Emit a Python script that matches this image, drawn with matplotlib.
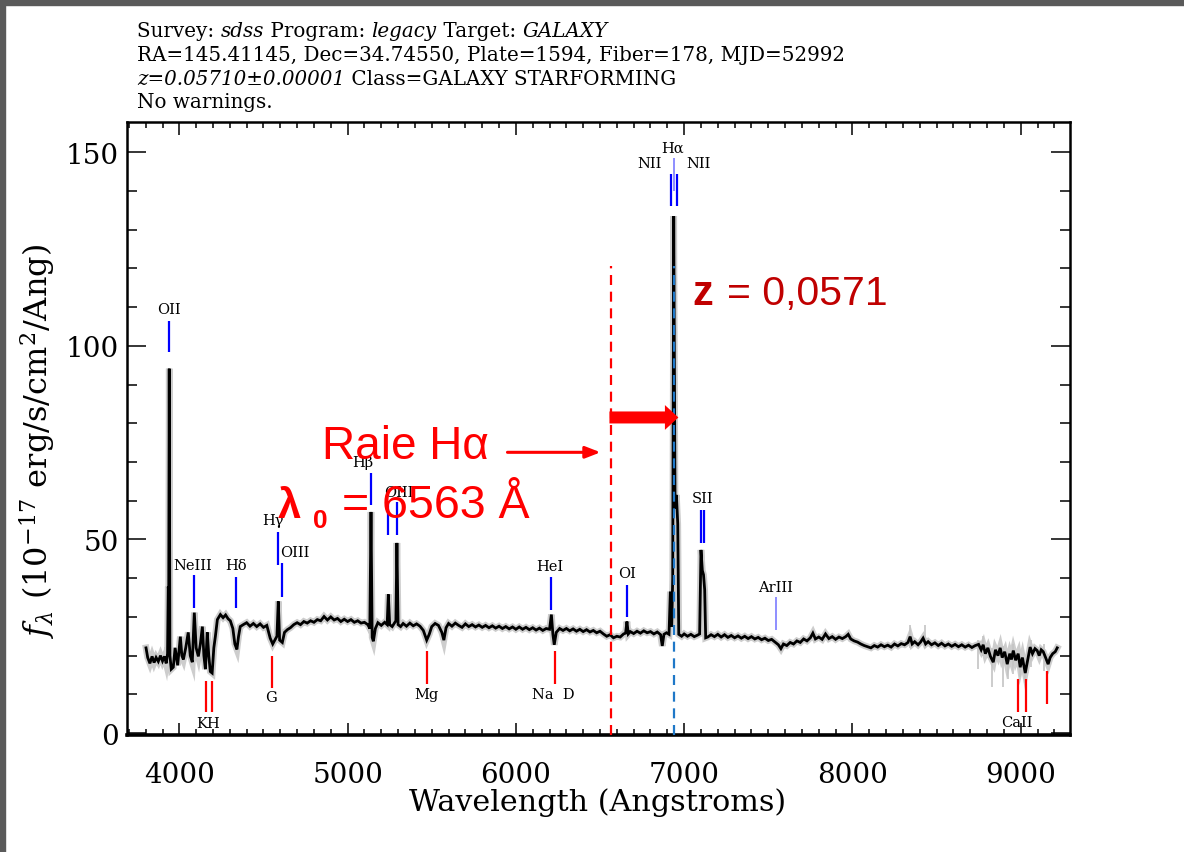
import matplotlib
matplotlib.use('Agg')
import matplotlib.pyplot as plt
from matplotlib.ticker import MultipleLocator, FixedLocator
from matplotlib.patches import Rectangle, FancyArrow

# 스펙트럼 데이터 (파장 Å, 플럭스 1e-17 erg/s/cm2/Å)
wave = [3802, 3812, 3825, 3838, 3850, 3862, 3875, 3888, 3900, 3912, 3922, 3930,
        3934, 3937, 3940, 3944, 3952, 3964, 3975, 3990, 4006, 4015, 4024, 4038,
        4053, 4065, 4077, 4089, 4100, 4113, 4125, 4137, 4146, 4155, 4166, 4175,
        4184, 4195, 4205, 4214, 4226, 4244, 4260, 4275, 4290, 4303, 4318, 4330,
        4342, 4352, 4362, 4380, 4400, 4420, 4440, 4460, 4480, 4500, 4520, 4540,
        4555, 4570, 4580, 4588, 4596, 4612, 4625, 4642, 4660, 4680, 4700, 4720,
        4740, 4760, 4780, 4800, 4820, 4840, 4860, 4880, 4900, 4920, 4940, 4960,
        4980, 5000, 5020, 5040, 5060, 5080, 5100, 5120, 5132, 5139, 5146, 5153,
        5165, 5180, 5200, 5220, 5235, 5242, 5250, 5265, 5280, 5287, 5293, 5300,
        5315, 5330, 5350, 5370, 5390, 5410, 5430, 5450, 5470, 5485, 5500, 5520,
        5540, 5560, 5572, 5585, 5600, 5620, 5640, 5660, 5680, 5700, 5720, 5740,
        5760, 5780, 5800, 5820, 5840, 5860, 5880, 5900, 5920, 5940, 5960, 5980,
        6000, 6020, 6040, 6060, 6080, 6100, 6120, 6140, 6160, 6180, 6200, 6211,
        6220, 6228, 6240, 6260, 6280, 6300, 6320, 6340, 6360, 6380, 6400, 6420,
        6440, 6460, 6480, 6500, 6520, 6540, 6560, 6580, 6600, 6620, 6640, 6652,
        6660, 6668, 6680, 6700, 6720, 6740, 6760, 6780, 6800, 6820, 6840, 6860,
        6870, 6880, 6895, 6910, 6918, 6926, 6932, 6938, 6946, 6954, 6962, 6968,
        6985, 7000, 7020, 7040, 7060, 7080, 7092, 7100, 7108, 7115, 7122, 7128,
        7140, 7160, 7180, 7200, 7220, 7240, 7260, 7280, 7300, 7320, 7340, 7360,
        7380, 7400, 7420, 7440, 7460, 7480, 7500, 7520, 7540, 7560, 7575, 7590,
        7610, 7630, 7650, 7670, 7690, 7710, 7730, 7750, 7765, 7780, 7800, 7820,
        7840, 7860, 7880, 7900, 7920, 7940, 7960, 7975, 7990, 8010, 8030, 8050,
        8070, 8090, 8110, 8130, 8150, 8170, 8190, 8210, 8230, 8250, 8270, 8290,
        8310, 8330, 8343, 8355, 8370, 8390, 8405, 8420, 8435, 8450, 8470, 8490,
        8510, 8530, 8550, 8570, 8590, 8610, 8630, 8650, 8670, 8690, 8710, 8730,
        8750, 8765, 8777, 8790, 8805, 8820, 8837, 8850, 8865, 8878, 8890, 8905,
        8920, 8935, 8945, 8956, 8970, 8985, 8997, 9010, 9027, 9040, 9056, 9070,
        9085, 9098, 9110, 9122, 9134, 9148, 9163, 9175, 9190, 9205, 9217]
flux = [22.0, 19.5, 18.0, 19.8, 18.2, 19.5, 18.5, 20.0, 18.6, 19.8, 18.0, 20.5,
        37.8, 36.0, 94.1, 20.0, 16.5, 17.0, 22.0, 17.5, 24.9, 20.0, 19.0, 22.0,
        26.0, 20.0, 18.3, 31.1, 22.0, 19.8, 23.0, 27.5, 20.0, 16.5, 26.0, 20.0,
        15.9, 15.5, 22.0, 24.9, 29.3, 30.6, 29.8, 30.5, 29.5, 29.0, 27.0, 23.0,
        21.6, 25.0, 27.5, 28.0, 28.5, 27.6, 28.3, 27.5, 28.2, 27.3, 27.8, 24.5,
        23.0, 24.2, 25.0, 34.0, 24.0, 23.4, 26.0, 26.7, 27.2, 28.0, 28.5, 28.0,
        28.8, 28.4, 29.0, 28.6, 29.3, 29.0, 30.1, 29.2, 30.0, 29.2, 29.6, 28.8,
        29.4, 28.8, 29.3, 28.6, 29.0, 28.4, 28.6, 28.0, 27.0, 57.1, 24.7, 23.7,
        27.0, 28.5, 27.8, 28.6, 28.0, 35.8, 28.0, 27.5, 28.5, 29.0, 49.1, 28.0,
        27.5, 28.3, 27.6, 28.4, 27.7, 28.2, 27.6, 26.5, 24.0, 25.5, 27.5, 28.3,
        27.8, 26.0, 24.0, 27.2, 28.3, 27.6, 28.4, 27.8, 27.3, 28.2, 27.5, 28.0,
        27.4, 27.9, 27.3, 27.8, 27.2, 27.7, 27.1, 27.6, 27.0, 27.5, 26.9, 27.4,
        26.8, 27.4, 26.8, 27.3, 26.7, 27.2, 26.6, 27.1, 26.5, 27.0, 26.8, 30.6,
        25.5, 22.8, 26.0, 27.0, 26.5, 27.0, 26.4, 26.9, 26.3, 26.8, 26.2, 26.7,
        26.1, 26.5, 25.9, 26.3, 25.6, 25.0, 25.4, 24.6, 25.0, 24.8, 25.6, 25.8,
        28.8, 25.6, 26.2, 25.7, 26.3, 25.8, 26.4, 25.9, 26.2, 25.6, 26.1, 25.4,
        22.5, 25.5, 25.9, 25.5, 36.5, 27.5, 40.0, 133.5, 58.0, 61.5, 54.0, 25.5,
        25.0, 25.6, 25.0, 25.5, 24.9, 25.3, 25.6, 47.3, 42.0, 40.9, 37.0, 24.6,
        24.8, 25.4, 24.9, 25.5, 24.8, 25.4, 24.7, 25.2, 24.6, 25.1, 24.5, 25.0,
        24.4, 24.9, 24.3, 24.7, 24.1, 24.5, 23.9, 24.2, 23.5, 22.8, 21.8, 23.0,
        22.6, 23.4, 23.0, 23.8, 23.4, 24.3, 23.8, 24.6, 25.8, 24.3, 24.8, 24.2,
        25.6, 24.4, 24.9, 24.2, 24.8, 24.4, 24.9, 25.5, 24.3, 23.8, 23.5, 23.0,
        22.6, 22.3, 22.0, 22.6, 22.2, 22.8, 22.3, 22.7, 22.2, 23.0, 22.5, 23.1,
        22.8, 23.4, 24.9, 23.0, 23.6, 22.8, 23.5, 24.5, 23.0, 23.6, 22.8, 23.3,
        22.6, 23.2, 22.5, 23.0, 22.4, 22.9, 22.3, 22.8, 22.2, 22.7, 22.1, 22.6,
        22.9, 21.5, 22.8, 20.5, 22.0, 19.8, 18.3, 21.5, 20.0, 22.0, 19.5, 21.0,
        17.8, 20.5, 19.0, 21.3, 18.8, 20.5, 17.0, 19.5, 15.5, 18.5, 22.2, 20.5,
        21.8, 21.3, 20.0, 21.5, 21.0, 19.5, 17.8, 19.5, 20.5, 21.0, 22.0]

# 하늘선 잔차 (회색 스파이크)
sky_wave = [8343, 8432, 8747, 8777, 8830, 8896, 8926, 8956, 8997, 9027, 9060, 9140]
sky_lo = [22.0, 22.0, 16.5, 20.0, 12.0, 11.8, 13.9, 15.2, 14.5, 13.0, 17.0, 16.0]
sky_hi = [28.0, 28.0, 24.0, 25.0, 22.0, 22.5, 21.0, 23.0, 20.0, 19.5, 24.0, 23.0]

redshift = 0.0571
lambda0 = 6563

# 방출선 (정지 파장, 마커 상단/하단)
emis_rest = [3727, 3869, 4102, 4340, 4363, 4861, 4959, 5007, 5876, 6300,
             6548, 6563, 6584, 6717, 6731, 7136]
emis_top = [106.5, 40.9, 40.4, 52.0, 44.0, 67.1, 59.7, 59.7, 40.4, 38.3,
            144.3, 148.4, 144.3, 57.6, 57.6, 35.2]
emis_bot = [98.5, 32.4, 32.2, 43.5, 35.2, 58.9, 51.2, 51.2, 31.9, 30.1,
            136.0, 139.9, 136.0, 49.1, 49.1, 26.7]

# 흡수선
absn_rest = [3934, 3969, 4304, 5175, 5894, 8498, 8542, 8662]
absn_top = [13.4, 13.4, 19.8, 21.1, 21.1, 13.9, 13.9, 15.9]
absn_bot = [5.4, 5.4, 11.6, 12.6, 12.6, 5.4, 5.4, 7.5]

# 선 라벨 (텍스트, 관측 파장, 높이, 정렬)
label_text = ['OII', 'NeIII', 'Hδ', 'Hγ', 'OIII', 'Hβ', 'OIII', 'HeI', 'OI',
              'NII', 'Hα', 'NII', 'SII', 'ArIII',
              'KH', 'G', 'Mg', 'Na  D', 'CaII']
label_wave = [3939, 4082, 4337, 4557, 4688, 5092, 5305, 6203, 6660,
              6868, 6933, 7010, 7112, 7546,
              4172, 4545, 5466, 6220, 8978]
label_y = [109.6, 43.5, 43.5, 55.0, 46.8, 70.0, 62.2, 43.2, 41.4,
           147.1, 151.2, 147.1, 60.7, 37.8,
           2.6, 9.3, 10.0, 10.0, 2.8]
label_ha = ['center'] * 9 + ['right', 'center', 'left'] + ['center'] * 7

header = [
    [('Survey: ', 'normal'), ('sdss', 'italic'), (' Program: ', 'normal'),
     ('legacy', 'italic'), (' Target: ', 'normal'), ('GALAXY', 'italic')],
    [('RA=145.41145, Dec=34.74550, Plate=1594, Fiber=178, MJD=52992', 'normal')],
    [('z=0.05710±0.00001', 'italic'), (' Class=GALAXY STARFORMING', 'normal')],
    [('No warnings.', 'normal')],
]

W, H = 1184, 853
SERIF = 'DejaVu Serif'
SANS = 'Liberation Sans'
HEAD_SIZE = 14.3

fig = plt.figure(figsize=(W / 100, H / 100), dpi=100)
fig.patch.set_facecolor('white')

# 화면 캡처 테두리
fig.patches.append(Rectangle((0, 1 - 6 / H), 1, 6 / H, transform=fig.transFigure,
                             color='#5a5a5a', zorder=0))
fig.patches.append(Rectangle((0, 0), 5 / W, 1, transform=fig.transFigure,
                             color='#5a5a5a', zorder=0))

ax = fig.add_axes([127 / W, 1 - 736 / H, 943 / W, 613 / H])
ax.set_xlim(3689, 9293)
ax.set_ylim(-0.5, 157.8)

ax.plot(wave, flux, color='#cdcdcd', lw=4.8, zorder=2, solid_joinstyle='miter')
ax.vlines(sky_wave, sky_lo, sky_hi, color='#c4c4c4', lw=1.2, zorder=2)
ax.plot(wave, flux, color='black', lw=2.0, zorder=3, solid_joinstyle='miter')

# 방출선 / 흡수선 마커
for rest, top, bot in zip(emis_rest, emis_top, emis_bot):
    col, lw = '#0000ff', 1.6
    if rest in (6563, 7136):
        col, lw = '#7070ff', 1.1
    ax.vlines(rest * (1 + redshift), bot, top, color=col, lw=lw, zorder=4)
for rest, top, bot in zip(absn_rest, absn_top, absn_bot):
    ax.vlines(rest * (1 + redshift), bot, top, color='#ff0000', lw=1.6, zorder=4)
for txt, xw, yv, ha in zip(label_text, label_wave, label_y, label_ha):
    ax.text(xw, yv, txt, ha=ha, va='center', fontsize=10.5, family=SERIF,
            color='black', zorder=5)

# 기준 파장(빨강)과 관측 파장(파랑) 점선
ax.vlines(lambda0, -0.5, 120.6, color='#ff0000', lw=1.6,
          linestyles=(0, (4.5, 3)), zorder=4)
ax.vlines(lambda0 * (1 + redshift), -0.5, 120.6, color='#1f78c8', lw=1.6,
          linestyles=(0, (4.5, 3)), zorder=6)

# 굵은 적색 편이 화살표
ax.add_patch(FancyArrow(lambda0 - 7, 81.5, lambda0 * redshift + 35, 0,
                        width=3.1, head_width=6.4, head_length=80,
                        length_includes_head=True, color='#ff0000', lw=0, zorder=7))
# 얇은 화살표
ax.annotate('', xy=(6503, 72.5), xytext=(5950, 72.5),
            arrowprops=dict(arrowstyle='-|>,head_length=0.9,head_width=0.35',
                            color='#ff0000', lw=2.2, shrinkA=0, shrinkB=0),
            zorder=7)

ax.text(4848, 71.0, 'Raie Hα', color='#ff0000', fontsize=33, family=SANS,
        va='baseline', zorder=8)
ax.text(4587, 55.8, 'λ', color='#ff0000', fontsize=30, family=SANS,
        fontweight='bold', va='baseline', zorder=8)
ax.text(4794, 53.2, '0', color='#ff0000', fontsize=19, family=SANS,
        fontweight='bold', va='baseline', zorder=8)
ax.text(4967, 55.8, '= 6563 Å', color='#ff0000', fontsize=33.5, family=SANS,
        va='baseline', zorder=8)
ax.text(7051, 110.9, 'z', color='#c00000', fontsize=30, family=SANS,
        fontweight='bold', va='baseline', zorder=8)
ax.text(7253, 110.9, '= 0,0571', color='#c00000', fontsize=29.5, family=SANS,
        va='baseline', zorder=8)

# 축 스타일 (IDL 풍)
ax.xaxis.set_major_locator(FixedLocator([4000, 5000, 6000, 7000, 8000, 9000]))
ax.xaxis.set_minor_locator(MultipleLocator(100))
ax.yaxis.set_major_locator(MultipleLocator(50))
ax.yaxis.set_minor_locator(MultipleLocator(10))
ax.tick_params(which='both', direction='in', top=True, right=True, width=1.1,
               color='black')
ax.tick_params(axis='x', which='major', length=9, pad=19)
ax.tick_params(axis='x', which='minor', length=4.5)
ax.tick_params(axis='y', which='major', length=14, pad=6)
ax.tick_params(axis='y', which='minor', length=7)
for lab in ax.get_xticklabels() + ax.get_yticklabels():
    lab.set_fontfamily(SERIF)
    lab.set_fontsize(20)
for side in ['top', 'left', 'right']:
    ax.spines[side].set_linewidth(1.8)
ax.spines['bottom'].set_linewidth(2.6)

fig.text(598 / W, 1 - 803 / H, 'Wavelength (Angstroms)', ha='center', va='center',
         fontsize=21.7, family=SERIF)
plt.rcParams['mathtext.fontset'] = 'dejavuserif'
fig.text(38 / W, 1 - 441 / H, r'$f_\lambda$ (10$^{-17}$ erg/s/cm$^2$/Ang)',
         rotation=90, ha='center', va='center', fontsize=23, family=SERIF)

# 헤더 (정체/이탤릭 혼합)
renderer = fig.canvas.get_renderer()


def text_width(s, style):
    probe = fig.text(0, 0, s + '|', fontsize=HEAD_SIZE, family=SERIF, style=style)
    bar = fig.text(0, 0, '|', fontsize=HEAD_SIZE, family=SERIF, style=style)
    w = (probe.get_window_extent(renderer).width
         - bar.get_window_extent(renderer).width)
    probe.remove()
    bar.remove()
    return w


baselines = [37, 61, 85, 108]
for runs, base in zip(header, baselines):
    x = 137
    for s, style in runs:
        fig.text(x / W, 1 - base / H, s, fontsize=HEAD_SIZE, family=SERIF,
                 style=style, va='baseline', ha='left')
        x += text_width(s, style)

fig.savefig('out.png', dpi=100, facecolor='white')
